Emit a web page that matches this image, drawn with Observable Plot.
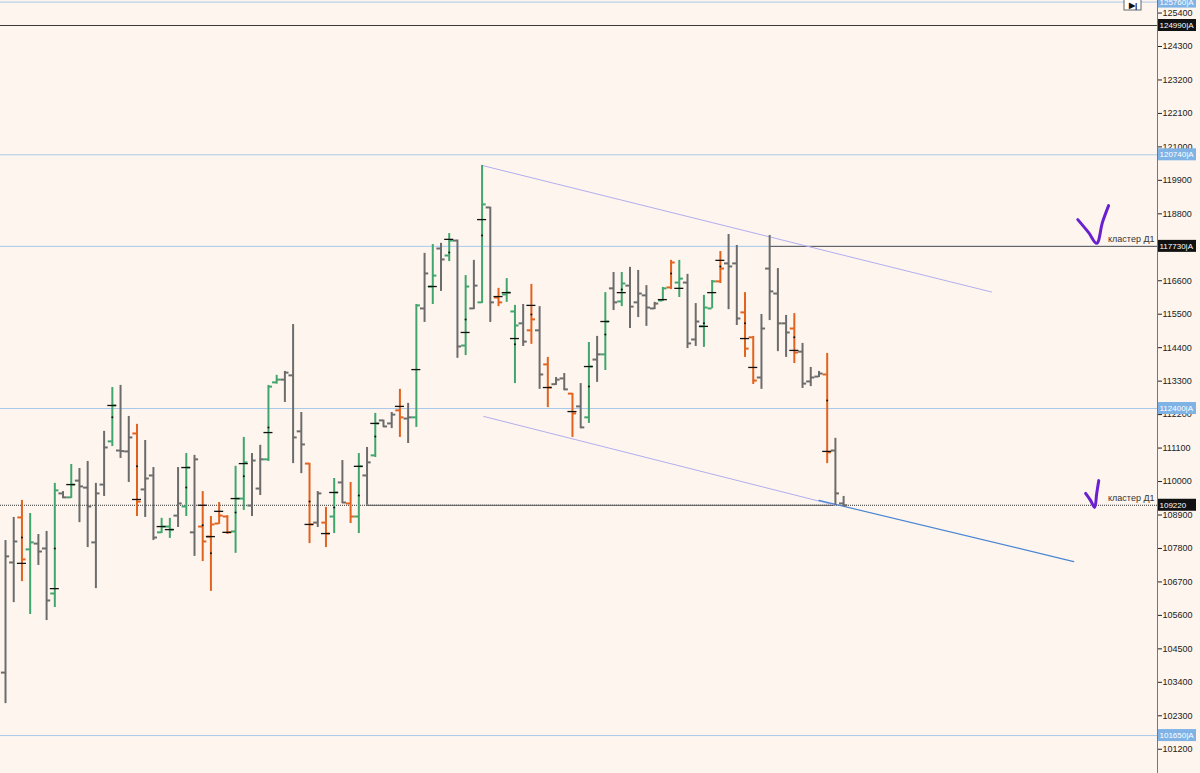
<!DOCTYPE html>
<html>
<head>
<meta charset="utf-8">
<script src="https://cdn.jsdelivr.net/npm/d3@7"></script>
<script src="https://cdn.jsdelivr.net/npm/@observablehq/plot@0.6"></script>
<style>
  html, body { margin: 0; padding: 0; background: #fdf5ee; overflow: hidden; }
  #chart svg { display: block; }
</style>
</head>
<body>
<div id="chart"></div>
<script>
// ---- OHLC bars (bar index 0..102) ----
const open = [103720,107340,108820,107770,107960,107800,106320,109610,109480,110030,
  109800,108000,109900,111320,111020,110990,111580,109740,110200,108330,
  108520,108880,109180,108330,108520,108190,108620,108850,108360,109440,
  109210,109770,110730,113260,113350,113490,111650,110590,108650,108650,
  108850,109970,109280,108850,110200,110860,112010,111910,112340,112070,
  112110,115690,116410,117660,117430,117920,114470,115690,115890,119010,
  116050,116150,115590,115200,114970,114970,113850,113200,113390,112890,
  112470,112110,114010,114180,116350,115920,116440,115890,116120,115690,
  115950,116380,116540,116540,114670,115100,115690,116580,117170,117170,
  115560,114740,113420,117000,116180,115200,115030,114270,113290,113450,
  113520,111020,109280];
const high = [108060,108820,109380,108950,108260,108360,109940,109670,110560,110430,
  110660,109940,111650,113090,113160,112140,111880,111350,110460,108790,
  108790,110460,110920,110860,109670,108850,109310,108880,110500,111450,
  110920,111190,113160,113490,113620,115160,112270,110600,109670,109150,
  110100,110690,109970,110920,111120,112240,112020,112270,113030,112570,
  115820,117500,117790,117830,118150,117940,116770,117270,120390,119020,
  116350,116670,115790,115820,116480,115750,114080,113420,113550,112900,
  113220,114570,114770,116210,116870,116870,117040,116940,116440,115890,
  116380,117270,117270,116810,115850,116120,116610,117560,118120,117760,
  116210,114770,115490,118090,117000,115460,115520,114540,113750,113620,
  114210,111420,109510];
const low = [102700,106020,106710,105630,107240,105430,105860,109440,109440,108650,
  107830,106480,109510,111150,110760,109970,108850,108820,108060,108290,
  108130,108490,108850,107540,107370,106390,108590,108260,107640,109050,
  108850,109540,110660,113200,112600,110590,110260,107960,108490,107830,
  108290,109280,108620,108290,109220,110790,111780,111740,111450,111250,
  111780,115230,115820,116250,117230,114050,114140,115650,115850,115230,
  115750,115890,113220,114440,114510,113030,112430,113160,112990,111450,
  111740,111910,113260,113650,115620,115750,115030,115390,115100,115650,
  115920,116310,116050,114370,114440,114410,115680,116510,115650,115130,
  114080,113190,113030,115290,114270,114080,113880,113060,113120,113420,
  110590,109220,109190];
const close = [107540,108030,107440,108000,107700,106090,109710,109480,109900,109840,
  109180,109610,111120,112500,111000,111450,109340,110100,108160,108520,
  108420,109280,110460,110730,108030,108590,108880,108330,109440,110630,
  110690,110730,113120,113350,113580,111450,111220,108590,109610,108290,
  109640,109310,108850,110500,110630,111910,111810,112200,112110,112110,
  115790,116840,116770,117300,117920,114440,116410,116440,119110,115890,
  115890,116210,115130,114600,115330,113520,113090,113350,113030,112240,
  111780,113780,114180,115260,115890,116510,115750,116180,115720,115850,
  116350,117200,116670,114540,115260,115720,116580,117000,117070,115360,
  114370,113320,115030,116250,115200,114900,114240,113220,113420,113550,
  110960,109610,109220];
const barColor = ["k","k","o","g","k","k","g","k","g","k",
  "k","k","k","g","k","k","o","k","k","g",
  "g","k","g","k","o","o","o","o","g","g",
  "k","k","g","g","k","k","k","o","k","o",
  "g","k","o","g","k","g","k","k","o","k",
  "g","k","g","k","g","k","g","k","g","k",
  "o","g","g","k","o","k","o","k","k","o",
  "k","g","k","g","k","g","k","k","k","k",
  "g","o","g","k","k","g","g","o","k","k",
  "o","o","k","k","k","k","o","k","k","k",
  "o","k","k"];

// ---- black cluster ticks and dots ----
const pocIndex = [2,6,8,13,16,19,20,22,24,25,26,27,28,29,32,37,39,40,43,45,48,50,52,54,56,58,60,61,62,64,66,69,71,73,75,80,82,85,86,87,90,91,96,100];
const pocPrice = [107310,106480,109900,112500,109410,108520,108420,110460,109220,108190,109020,108330,109440,110590,111610,108590,108290,109640,110500,111910,112470,113680,116410,117960,114900,118610,116080,116210,114700,115790,113090,112300,113780,115260,116210,115980,116350,115100,116210,117270,114700,113750,114310,110990];
const dotIndex = [2,6,13,16,22,24,25,28,29,32,37,40,43,45,54,56,58,62,64,71,73,75,81,85,87,90,96,100];
const dotPrice = [108160,107800,112110,110500,109800,108560,107640,108980,110170,111780,109340,109150,109540,111480,117530,115330,118090,114510,115490,113120,114830,116310,116840,115200,117070,115200,114740,112660];

// ---- horizontal levels ----
const levelPrice = [125760,124990,120740,117730,112400,109220,101650];
const levelKind  = ["blue","dark","blue","blue","blue","dot","blue"];
const levelLabel = ["125760|A","124990|A","120740|A","117730|A","112400|A","109220","101650|A"];
const levelBox   = ["blue","dark","blue","dark","blue","dark","blue"];
// rays starting at a bar
const rayFrom = [93, 44];
const rayTo   = [null, 101];
const rayPrice = [117730, 109220];

// ---- channel ----
const upperI = [58, 120], upperP = [120390, 116230];
const lowerI = [58.2, 101], lowerP = [112140, 109220];
const lowerExtI = [99, 130], lowerExtP = [109380, 107370];

// ---- axis ticks (117700 lies under the 117730 label) ----
const tickValues = [125400,124300,123200,122100,121000,119900,118800,116600,115500,114400,113300,112200,111100,110000,108900,107800,106700,105600,104500,103400,102300,101200];

// ---- annotations ----
const noteText = ["кластер Д1","кластер Д1"];
const notePrice = [117730, 109220];
const check1I = [130.5,131.8,132.8,133.5,134.25], check1P = [118610,118190,117830,118520,119070];
const check2I = [131.45,132.05,132.55,132.8,133.05], check2P = [109610,109380,109150,109610,110030];
const buttonText = ["▶|"];

// ---- build ----
const colorMap = {g: "#41a66d", o: "#e2631e", k: "#6c6c6c"};
const xDomain = [-0.61, 140.2];
const yDomain = [100403, 125812];
const xMax = xDomain[1];
const bars = open.map((o, i) => ({i, o, h: high[i], l: low[i], c: close[i], col: colorMap[barColor[i]]}));
const poc = pocIndex.map((i, k) => ({i, p: pocPrice[k]}));
const dots = dotIndex.map((i, k) => ({i, p: dotPrice[k]}));
const levels = levelPrice.map((p, k) => ({p, kind: levelKind[k], label: levelLabel[k], box: levelBox[k]}));
const rays = rayFrom.map((f, k) => ({f, t: rayTo[k] == null ? xMax : rayTo[k], p: rayPrice[k]}));
const toPts = (I, P) => I.map((i, k) => ({i, p: P[k]}));
const lineColor = {blue: "#a9c9ea", dark: "#3a3a3a", dot: "#222"};
const boxColor = {blue: "#7fb3e6", dark: "#111"};

const chart = Plot.plot({
  width: 1200, height: 773,
  marginLeft: 0, marginRight: 43, marginTop: 0, marginBottom: 0,
  x: {type: "linear", domain: xDomain, axis: null},
  y: {domain: yDomain, axis: "right", ticks: tickValues, tickFormat: d => String(d), tickSize: 4, tickPadding: 1, label: null},
  color: {type: "identity"},
  style: {background: "#fdf5ee", fontFamily: "Liberation Sans, Arial, sans-serif", fontSize: "9px", color: "#222"},
  marks: [
    Plot.ruleY(levels.filter(d => d.kind !== "dot"), {y: "p", stroke: d => lineColor[d.kind], strokeWidth: 1}),
    Plot.ruleY(levels.filter(d => d.kind === "dot"), {y: "p", stroke: "#333", strokeWidth: 1, strokeDasharray: "1,1"}),
    Plot.ruleY(rays, {y: "p", x1: "f", x2: "t", stroke: "#555", strokeWidth: 1}),
    Plot.line(toPts(upperI, upperP), {x: "i", y: "p", stroke: "#b3aef0", strokeWidth: 1}),
    Plot.line(toPts(lowerI, lowerP), {x: "i", y: "p", stroke: "#b3aef0", strokeWidth: 1}),
    Plot.line(toPts(lowerExtI, lowerExtP), {x: "i", y: "p", stroke: "#4a86d4", strokeWidth: 1.2}),
    Plot.ruleX(bars, {x: "i", y1: "l", y2: "h", stroke: "col", strokeWidth: 2}),
    Plot.ruleY(bars, {y: "o", x1: d => d.i - 0.5, x2: "i", stroke: "col", strokeWidth: 2}),
    Plot.ruleY(bars, {y: "c", x1: "i", x2: d => d.i + 0.5, stroke: "col", strokeWidth: 2}),
    Plot.ruleY(poc, {y: "p", x1: d => d.i - 0.55, x2: d => d.i + 0.55, stroke: "#111", strokeWidth: 1.3}),
    Plot.dot(dots, {x: "i", y: "p", r: 1, fill: "#111", stroke: null}),
    Plot.ruleX([xMax], {stroke: "#777", strokeWidth: 1}),
    Plot.rect(levels, {x1: () => xMax, x2: () => xMax, y1: "p", y2: "p", insetLeft: 1, insetRight: -39, insetTop: -6, insetBottom: -6, fill: d => boxColor[d.box]}),
    Plot.text(levels, {x: () => xMax, y: "p", text: "label", dx: 2, textAnchor: "start", fill: "white", fontSize: 8}),
    Plot.text(notePrice.map((p, k) => ({p, t: noteText[k]})), {x: () => xMax, y: "p", text: "t", dx: -3, dy: -7, textAnchor: "end", fill: "#333", fontSize: 9}),
    Plot.line(toPts(check1I, check1P), {x: "i", y: "p", stroke: "#6a1fd0", strokeWidth: 3, curve: "catmull-rom", strokeLinecap: "round"}),
    Plot.line(toPts(check2I, check2P), {x: "i", y: "p", stroke: "#6a1fd0", strokeWidth: 3, curve: "catmull-rom", strokeLinecap: "round"}),
    Plot.rect(buttonText, {x1: () => xMax, x2: () => xMax, y1: () => yDomain[1], y2: () => yDomain[1], insetLeft: -33, insetRight: 16, insetTop: -1, insetBottom: -10, fill: "white", stroke: "#666"}),
    Plot.text(buttonText, {x: () => xMax, y: () => yDomain[1], text: d => d, dx: -24.5, dy: 5, textAnchor: "middle", fill: "#111", fontSize: 8, fontWeight: "bold"})
  ]
});
document.getElementById("chart").append(chart);
</script>
</body>
</html>
